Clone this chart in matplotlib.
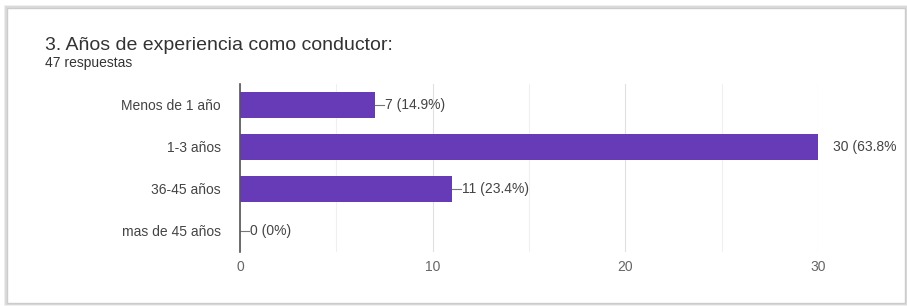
import matplotlib.pyplot as plt
from matplotlib.patches import Rectangle

# data
categories = ["Menos de 1 año", "1-3 años", "36-45 años", "mas de 45 años"]
counts = [7, 30, 11, 0]
value_labels = ["7 (14.9%)", "30 (63.8%", "11 (23.4%)", "0 (0%)"]
x_ticks = [0, 10, 20, 30]

TITLE = "3. Años de experiencia como conductor:"
SUBTITLE = "47 respuestas"
BAR_COLOR = "#673ab7"

plt.rcParams["font.family"] = ["Liberation Sans", "DejaVu Sans"]

W, H = 907, 306
fig = plt.figure(figsize=(W / 100, H / 100), dpi=100)


def px(x, y):
    # pixel coords (top-left origin) -> figure fraction
    return x / W, 1 - y / H


# card with soft border / shadow
for off, col in [(2, "#ececec"), (1, "#d6d6d6")]:
    fig.patches.append(Rectangle(px(7 - off, 303 + off), (898 + 2 * off) / W, (295 + 2 * off) / H,
                                 transform=fig.transFigure, facecolor="none",
                                 edgecolor=col, linewidth=1.2, zorder=-10))
fig.patches.append(Rectangle(px(7, 303), 898 / W, 295 / H, transform=fig.transFigure,
                             facecolor="white", edgecolor="#cccccc", linewidth=1, zorder=-9))

fig.text(*px(45, 45), TITLE, fontsize=14, color="#333333", va="center", ha="left")
fig.text(*px(45, 63), SUBTITLE, fontsize=10, color="#333333", va="center", ha="left")

l, t = px(240, 84)
r, b = px(818, 252)
ax = fig.add_axes([l, b, r - l, t - b])
ax.set_facecolor("none")

y = list(range(len(categories)))
ax.barh(y, counts, height=0.6, color=BAR_COLOR, zorder=3)

ax.set_xlim(0, 30)
ax.set_ylim(len(categories) - 0.5, -0.5)
ax.set_xticks(x_ticks)
ax.set_xticks([5, 15, 25], minor=True)
ax.grid(axis="x", which="major", color="#e0e0e0", linewidth=0.8, zorder=0)
ax.grid(axis="x", which="minor", color="#f0f0f0", linewidth=0.8, zorder=0)
ax.tick_params(axis="x", which="both", length=0, labelsize=10, labelcolor="#666666", pad=6)
ax.tick_params(axis="y", length=0, labelsize=10, labelcolor="#444444", pad=14)
ax.set_yticks(y)
ax.set_yticklabels(categories)
for s in ["top", "right", "bottom"]:
    ax.spines[s].set_visible(False)
ax.spines["left"].set_color("#555555")
ax.spines["left"].set_linewidth(1.2)
ax.spines["left"].set_zorder(4)

for yi, v, lab in zip(y, counts, value_labels):
    if v < 30:
        ax.plot([v, v + 0.45], [yi, yi], color="#777777", linewidth=0.8, zorder=4, clip_on=False)
        ax.text(v + 0.5, yi, lab, fontsize=10, color="#444444", va="center", ha="left")
    else:
        ax.text(v + 0.78, yi, lab, fontsize=10, color="#444444", va="center", ha="left",
                clip_on=False)

fig.savefig("out.png", dpi=100)
